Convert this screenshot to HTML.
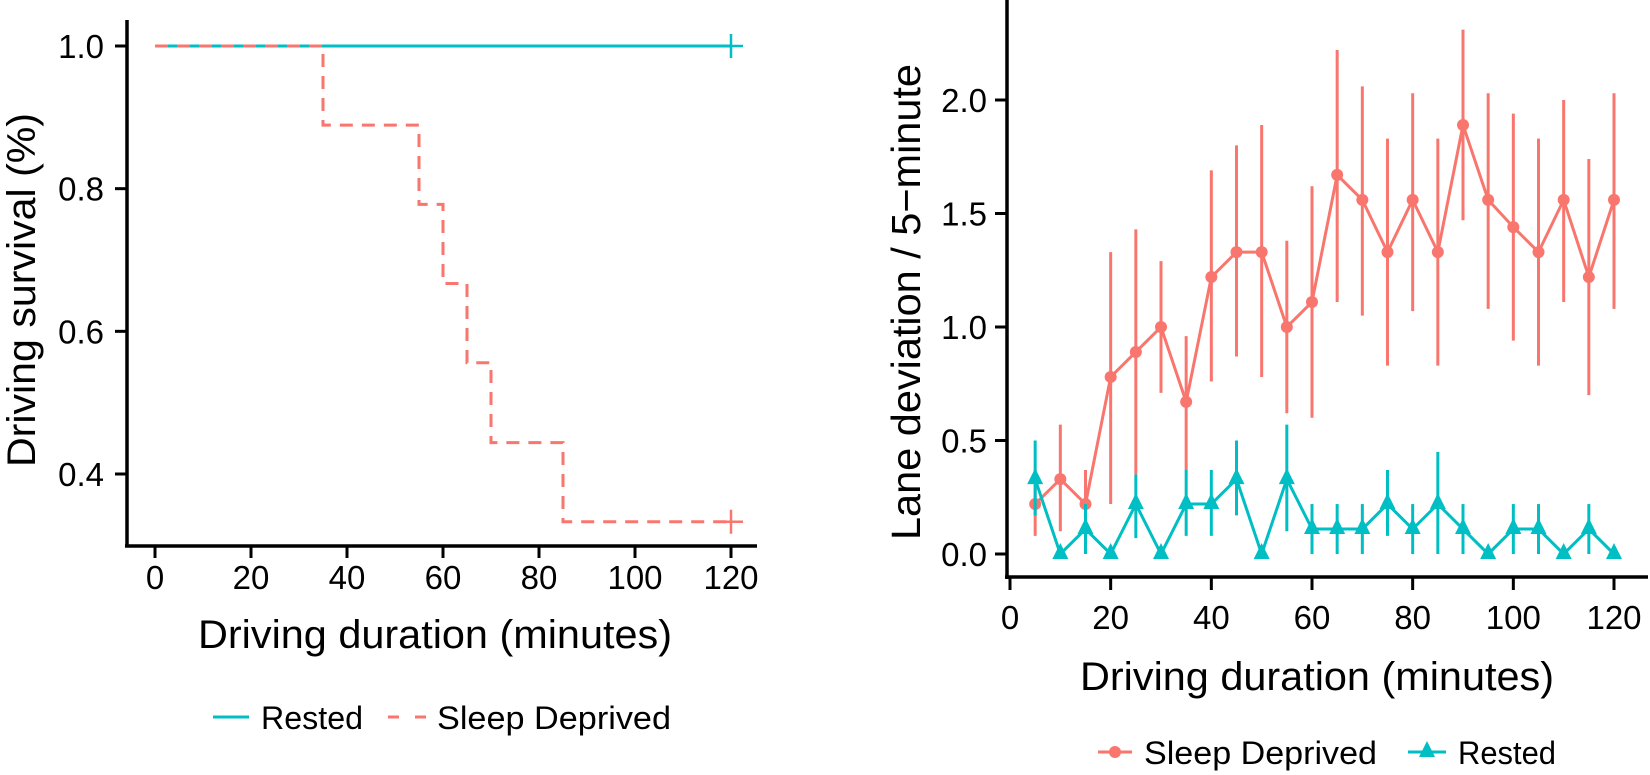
<!DOCTYPE html>
<html><head><meta charset="utf-8"><style>
html,body{margin:0;padding:0;background:#fff;}
svg{display:block;font-family:"Liberation Sans",sans-serif;}
</style></head><body>
<svg id="fig" width="1650" height="775" viewBox="0 0 1650 775">
<g id="left"></g>
<g id="right"></g>
</svg>
<script>
// ---- Left chart data (Kaplan-Meier) ----
const kmXTicks = [0, 20, 40, 60, 80, 100, 120];
const kmYTicks = [0.4, 0.6, 0.8, 1.0];
const kmYLabels = ["0.4", "0.6", "0.8", "1.0"];
const sdTimes = [0, 35, 55, 60, 65, 70, 85, 120];
const sdSurv = [1.0, 0.889, 0.778, 0.667, 0.556, 0.444, 0.333, 0.333];
const restTimes = [0, 120];
const restSurv = [1.0, 1.0];

// ---- Right chart data ----
const ldXTicks = [0, 20, 40, 60, 80, 100, 120];
const ldYTicks = [0.0, 0.5, 1.0, 1.5, 2.0];
const ldYLabels = ["0.0", "0.5", "1.0", "1.5", "2.0"];
const minutes = [5,10,15,20,25,30,35,40,45,50,55,60,65,70,75,80,85,90,95,100,105,110,115,120];
const sdMean = [0.22,0.33,0.22,0.78,0.89,1.0,0.67,1.22,1.33,1.33,1.0,1.11,1.67,1.56,1.33,1.56,1.33,1.89,1.56,1.44,1.33,1.56,1.22,1.56];
const sdLow = [0.08,0.10,0.08,0.22,0.35,0.71,0.37,0.76,0.87,0.78,0.62,0.60,1.11,1.05,0.83,1.07,0.83,1.47,1.08,0.94,0.83,1.11,0.70,1.08];
const sdHigh = [0.37,0.57,0.37,1.33,1.43,1.29,0.96,1.69,1.80,1.89,1.38,1.62,2.22,2.06,1.83,2.03,1.83,2.31,2.03,1.94,1.83,2.00,1.74,2.03];
const reMean = [0.33,0,0.11,0,0.22,0,0.22,0.22,0.33,0,0.33,0.11,0.11,0.11,0.22,0.11,0.22,0.11,0,0.11,0.11,0,0.11,0];
const reLow = [0.17,0,0,0,0.07,0,0.08,0.08,0.17,0,0.10,0,0,0,0.08,0,0,0,0,0,0,0,0,0];
const reHigh = [0.50,0,0.22,0,0.35,0,0.37,0.37,0.50,0,0.57,0.22,0.22,0.22,0.37,0.22,0.45,0.22,0,0.22,0.22,0,0.22,0];

const NS = "http://www.w3.org/2000/svg";
const RED = "#F8766D", TEAL = "#00BFC4";
function mk(parent, tag, attrs, text) {
  const e = document.createElementNS(NS, tag);
  for (const k in attrs) e.setAttribute(k, attrs[k]);
  if (text !== undefined) e.textContent = text;
  parent.appendChild(e);
  return e;
}

// ===== LEFT =====
const L = document.getElementById('left');
const lx = v => 155 + v * (731 - 155) / 120;
const ly = v => 474 - (v - 0.4) * (474 - 46) / 0.6;
let e;
e = mk(L, 'line', {x1:127, y1:20, x2:127, y2:547, stroke:'#000', 'stroke-width':3.5});
 
e = mk(L, 'line', {x1:125, y1:546, x2:757, y2:546, stroke:'#000', 'stroke-width':3.5});
 
kmXTicks.forEach(t => {
  mk(L, 'line', {x1:lx(t), y1:546, x2:lx(t), y2:558, stroke:'#000', 'stroke-width':3});
  e = mk(L, 'text', {x:lx(t), y:589, 'font-size':33, 'text-anchor':'middle'}, String(t));
   
});
kmYTicks.forEach((t, i) => {
  mk(L, 'line', {x1:115, y1:ly(t), x2:127, y2:ly(t), stroke:'#000', 'stroke-width':3});
  e = mk(L, 'text', {x:104, y:ly(t) + 12, 'font-size':33, 'text-anchor':'end'}, kmYLabels[i]);
   
});
function stepPath(ts, ss) {
  let d = `M${lx(ts[0])},${ly(ss[0])}`;
  for (let i = 1; i < ts.length; i++) d += ` H${lx(ts[i])} V${ly(ss[i])}`;
  return d;
}
e = mk(L, 'path', {d:stepPath(restTimes, restSurv), fill:'none', stroke:TEAL, 'stroke-width':3});
 
e = mk(L, 'path', {d:stepPath(sdTimes, sdSurv), fill:'none', stroke:RED, 'stroke-width':3, 'stroke-dasharray':'13,9'});
 
[[restTimes, restSurv, TEAL], [sdTimes, sdSurv, RED]].forEach(([ts, ss, c]) => {
  const x = lx(ts[ts.length-1]), y = ly(ss[ss.length-1]);
  mk(L, 'path', {d:`M${x-12},${y} H${x+12} M${x},${y-12} V${y+12}`, stroke:c, 'stroke-width':2.5});
});
e = mk(L, 'text', {x:0, y:0, 'font-size':40, 'text-anchor':'middle', textLength:354, lengthAdjust:'spacingAndGlyphs', transform:'translate(35,290) rotate(-90)'}, 'Driving survival (%)');
 
e = mk(L, 'text', {x:435, y:648, 'font-size':40, 'text-anchor':'middle', textLength:474, lengthAdjust:'spacingAndGlyphs'}, 'Driving duration (minutes)');
 
// legend
e = mk(L, 'g', {});
 
mk(e, 'line', {x1:213, y1:717, x2:249, y2:717, stroke:TEAL, 'stroke-width':3});
mk(e, 'text', {x:261, y:729, 'font-size':32, textLength:102, lengthAdjust:'spacingAndGlyphs'}, 'Rested');
mk(e, 'line', {x1:388, y1:717, x2:426, y2:717, stroke:RED, 'stroke-width':3, 'stroke-dasharray':'11,16'});
mk(e, 'text', {x:437, y:729, 'font-size':32, textLength:234, lengthAdjust:'spacingAndGlyphs'}, 'Sleep Deprived');

// ===== RIGHT =====
const R = document.getElementById('right');
const rx = v => 1010 + v * (1614 - 1010) / 120;
const ry = v => 554 - v * (554 - 100) / 2.0;
e = mk(R, 'line', {x1:1007, y1:0, x2:1007, y2:579, stroke:'#000', 'stroke-width':3.5});
 
e = mk(R, 'line', {x1:1005, y1:577, x2:1648, y2:577, stroke:'#000', 'stroke-width':3.5});
 
ldXTicks.forEach(t => {
  mk(R, 'line', {x1:rx(t), y1:577, x2:rx(t), y2:590, stroke:'#000', 'stroke-width':3});
  e = mk(R, 'text', {x:rx(t), y:629, 'font-size':33, 'text-anchor':'middle'}, String(t));
   
});
ldYTicks.forEach((t, i) => {
  mk(R, 'line', {x1:995, y1:ry(t), x2:1007, y2:ry(t), stroke:'#000', 'stroke-width':3});
  e = mk(R, 'text', {x:987, y:ry(t) + 12, 'font-size':33, 'text-anchor':'end'}, ldYLabels[i]);
   
});
function series(mean, lo, hi, color, shape, name) {
  const g = mk(R, 'g', {});
   
  minutes.forEach((m, i) => {
    if (hi[i] > lo[i]) {
      const b = mk(g, 'line', {x1:rx(m), y1:ry(lo[i]), x2:rx(m), y2:ry(hi[i]), stroke:color, 'stroke-width':3});
       
    }
  });
  const pts = minutes.map((m, i) => rx(m) + ',' + ry(mean[i])).join(' ');
  const pl = mk(g, 'polyline', {points:pts, fill:'none', stroke:color, 'stroke-width':3});
   
  minutes.forEach((m, i) => {
    const x = rx(m), y = ry(mean[i]);
    let p;
    if (shape === 'circle') p = mk(g, 'circle', {cx:x, cy:y, r:6, fill:color});
    else p = mk(g, 'path', {d:`M${x},${y-11} L${x+8},${y+5} L${x-8},${y+5} Z`, fill:color});
     
  });
}
series(sdMean, sdLow, sdHigh, RED, 'circle', 'sleep-deprived');
series(reMean, reLow, reHigh, TEAL, 'triangle', 'rested');
e = mk(R, 'text', {x:0, y:0, 'font-size':41, 'text-anchor':'middle', textLength:476, lengthAdjust:'spacingAndGlyphs', transform:'translate(920,302) rotate(-90)'}, 'Lane deviation / 5\u2212minute');
 
e = mk(R, 'text', {x:1317, y:690, 'font-size':40, 'text-anchor':'middle', textLength:474, lengthAdjust:'spacingAndGlyphs'}, 'Driving duration (minutes)');
 
e = mk(R, 'g', {});
 
mk(e, 'line', {x1:1098, y1:752, x2:1132, y2:752, stroke:RED, 'stroke-width':3});
mk(e, 'circle', {cx:1115, cy:752, r:6, fill:RED});
mk(e, 'text', {x:1144, y:764, 'font-size':32, textLength:233, lengthAdjust:'spacingAndGlyphs'}, 'Sleep Deprived');
mk(e, 'line', {x1:1408, y1:752, x2:1446, y2:752, stroke:TEAL, 'stroke-width':3});
mk(e, 'path', {d:'M1427,741 L1435,757 L1419,757 Z', fill:TEAL});
mk(e, 'text', {x:1458, y:764, 'font-size':32, textLength:98, lengthAdjust:'spacingAndGlyphs'}, 'Rested');
</script>
</body></html>
